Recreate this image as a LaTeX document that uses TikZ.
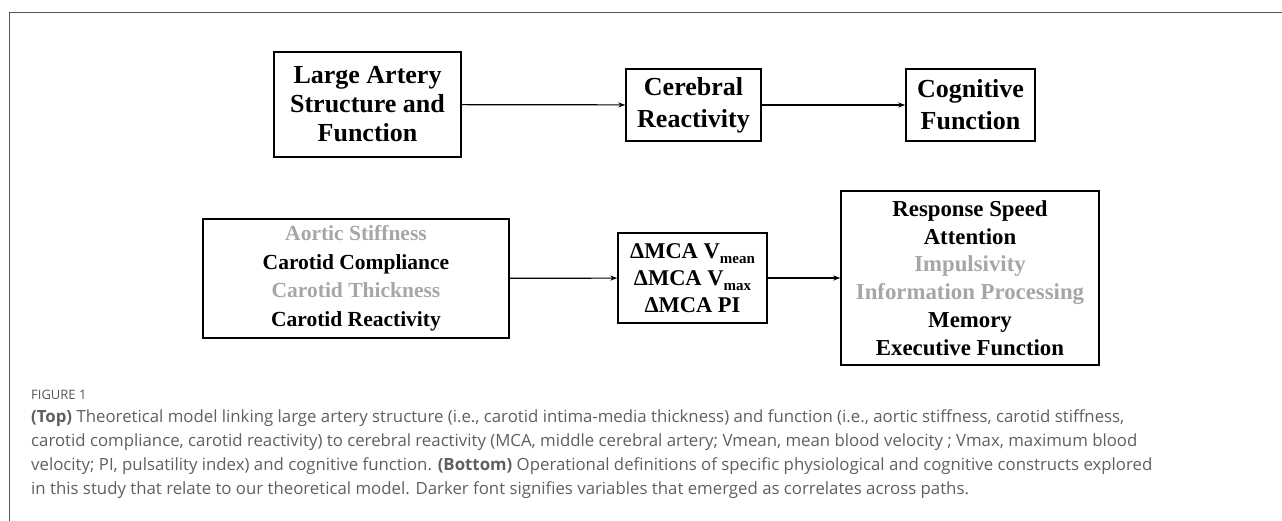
\documentclass[tikz,border=0pt]{standalone}
\usepackage{fontspec}
\setmainfont{Liberation Serif}
\newfontfamily\capfont{Open Sans}
\usetikzlibrary{arrows.meta}
\definecolor{lightgrey}{RGB}{166,166,166}
\definecolor{capgrey}{RGB}{95,95,95}
\definecolor{framegrey}{RGB}{85,85,85}
\tikzset{
  box/.style={draw=black, line width=1.5pt, inner sep=0pt, align=center, font=\bfseries},
  conn/.style={line width=1.2pt, -{Stealth[length=7pt,width=5pt]}},
  capline/.style={anchor=base west, inner sep=0pt, text=capgrey, font=\capfont\fontsize{16.8}{19}\selectfont},
}
\newcommand{\lgrey}[1]{\textcolor{lightgrey}{#1}}
\newcommand{\subs}[1]{\raisebox{-5pt}{\fontsize{15}{15}\selectfont #1}}
\begin{document}
\begin{tikzpicture}[x=1pt,y=-1pt]
\useasboundingbox (0,0) rectangle (1282,521);
\draw[framegrey, line width=1.5pt] (9.5,521) -- (9.5,12.5) -- (1282,12.5);
% top row
\node[box, minimum width=187pt, minimum height=105pt, font=\bfseries\fontsize{26}{29}\selectfont] (b1) at (367.5,104.5) {Large Artery\\Structure and\\Function};
\node[box, minimum width=135pt, minimum height=72pt, font=\bfseries\fontsize{26}{32}\selectfont] (b2) at (693.5,105) {Cerebral\\Reactivity};
\node[box, minimum width=129pt, minimum height=72pt, font=\bfseries\fontsize{26}{32}\selectfont] (b3) at (970.5,105) {Cognitive\\Function};
\draw[conn] (b1) -- (b2);
\draw[conn] (b2) -- (b3);
% bottom row
\node[box, minimum width=306pt, minimum height=119pt, font=\bfseries\fontsize{21.5}{28.5}\selectfont] (b4) at (356,278.5) {\lgrey{Aortic Stiffness}\\Carotid Compliance\\\lgrey{Carotid Thickness}\\Carotid Reactivity};
\node[box, minimum width=149pt, minimum height=90pt, font=\bfseries\fontsize{22.5}{27}\selectfont] (b5) at (692.5,278) {ΔMCA V\subs{mean}\\ΔMCA V\subs{max}\\ΔMCA PI};
\node[box, minimum width=258pt, minimum height=174pt, font=\bfseries\fontsize{22.8}{27.7}\selectfont] (b6) at (970,278) {Response Speed\\Attention\\\lgrey{Impulsivity}\\\lgrey{Information Processing}\\Memory\\Executive Function};
\draw[conn] (b4) -- (b5);
\draw[conn] (b5) -- (b6);
% caption
\node[capline, font=\capfont\fontsize{13}{15}\selectfont, text=framegrey] (c0) at (31,399) {FIGURE 1};
\node[capline] (c1) at (31,422) {\textbf{(Top)} Theoretical model linking large artery structure (i.e., carotid intima-media thickness) and function (i.e., aortic stiffness, carotid stiffness,};
\node[capline] (c2) at (31,446) {carotid compliance, carotid reactivity) to cerebral reactivity (MCA, middle cerebral artery; Vmean, mean blood velocity ; Vmax, maximum blood};
\node[capline] (c3) at (31,470) {velocity; PI, pulsatility index) and cognitive function. \textbf{(Bottom)} Operational definitions of specific physiological and cognitive constructs explored};
\node[capline] (c4) at (31,494) {in this study that relate to our theoretical model. Darker font signifies variables that emerged as correlates across paths.};
\end{tikzpicture}
\end{document}
